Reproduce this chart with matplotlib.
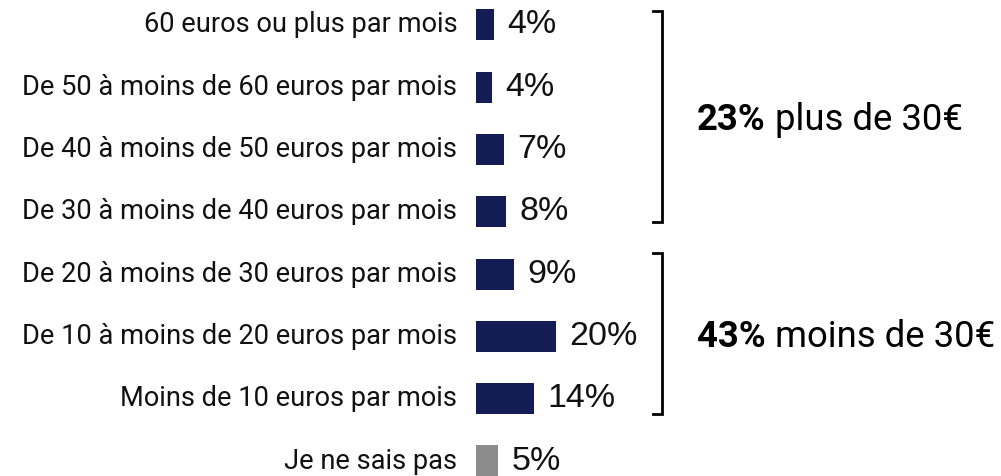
import matplotlib
matplotlib.use("Agg")
import matplotlib.pyplot as plt

categories = [
    "60 euros ou plus par mois",
    "De 50 à moins de 60 euros par mois",
    "De 40 à moins de 50 euros par mois",
    "De 30 à moins de 40 euros par mois",
    "De 20 à moins de 30 euros par mois",
    "De 10 à moins de 20 euros par mois",
    "Moins de 10 euros par mois",
    "Je ne sais pas",
]
values = [4.5, 4, 7, 7.5, 9.5, 20, 14.5, 5.5]
value_labels = ["4%", "4%", "7%", "8%", "9%", "20%", "14%", "5%"]
bar_colors = ["#141c55"] * 7 + ["#8c8c8c"]

group_bold = ["23%", "43%"]
group_text = [" plus de 30€", " moins de 30€"]

W, H = 1001, 476
fig = plt.figure(figsize=(W / 100, H / 100), dpi=100)
# 4 px per percent, axes starts at x=476px
ax_w = 525
ax = fig.add_axes([476 / W, 0, ax_w / W, 1])
ax.set_xlim(0, ax_w / 4)
ax.set_ylim(7.24, -0.40)
ax.axis("off")

ypos = list(range(len(categories)))
ax.barh(ypos, values, height=0.5, color=bar_colors)

for y, v, lab, cat in zip(ypos, values, value_labels, categories):
    ax.text(v + 3.4, y, lab, va="center", ha="left", fontsize=24.5,
            family="Liberation Sans", color="#111111")
    ax.text(-4.7, y, cat, va="center", ha="right", fontsize=19.6,
            family="Roboto", color="#111111")

# brackets
def bracket(y0, y1):
    ax.plot([44.25, 46.5, 46.5, 44.25], [y0, y0, y1, y1], color="black",
            lw=2, clip_on=False, solid_joinstyle="miter")

bracket(-0.225, 3.16)
bracket(3.66, 6.24)

fig.canvas.draw()
r = fig.canvas.get_renderer()
for yb, b, t in zip([1.52, 5.01], group_bold, group_text):
    tb = ax.text(55.25, yb, b, va="center", ha="left", fontsize=26.3,
                 family="Roboto", weight="bold", color="black")
    bb = tb.get_window_extent(renderer=r)
    x_px = bb.x1
    xd = ax.transData.inverted().transform((x_px, 0))[0]
    ax.text(xd, yb, t, va="center", ha="left", fontsize=26.3,
            family="Roboto", color="black")

fig.savefig("out.png", dpi=100, facecolor="white")
